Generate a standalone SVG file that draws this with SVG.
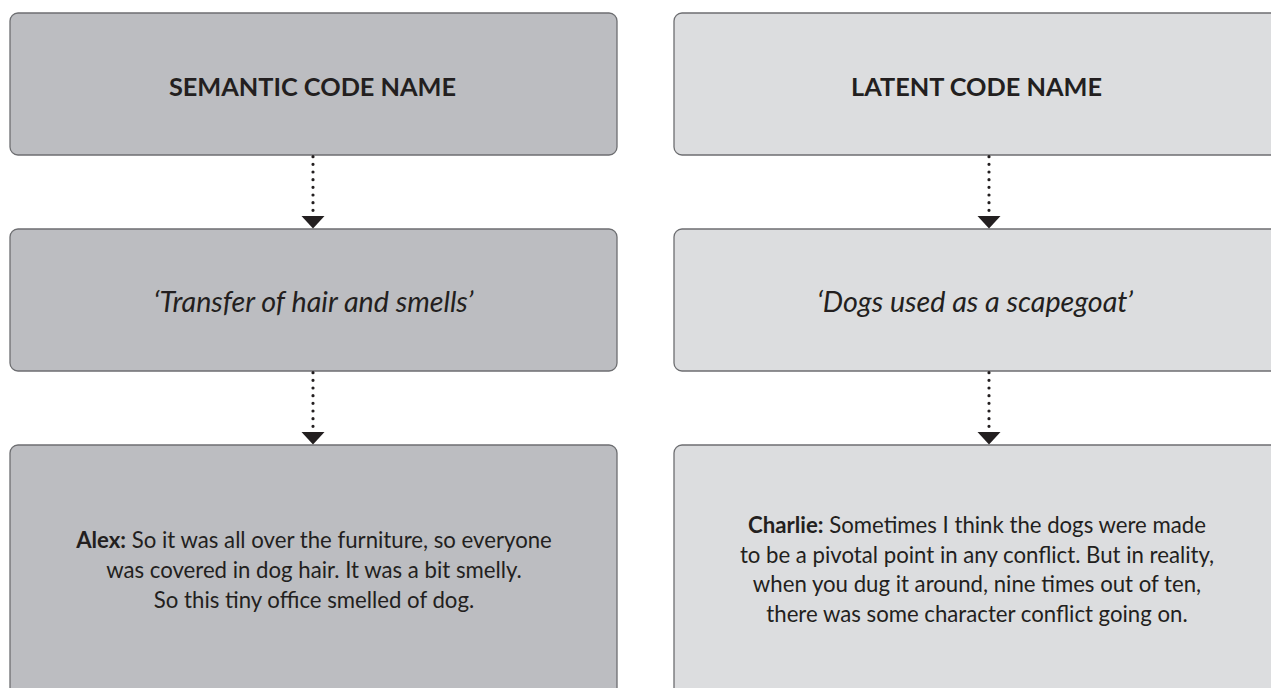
<svg xmlns="http://www.w3.org/2000/svg" xmlns:xlink="http://www.w3.org/1999/xlink" width="1271" height="688" viewBox="0 0 1271 688">
<defs>
<style>
.boxL{fill:#bcbdc1;stroke:#6d6e71;stroke-width:1.3}
.boxR{fill:#dcdddf;stroke:#6d6e71;stroke-width:1.3}
.h{font-family:Lato,"Open Sans",sans-serif;font-weight:bold;font-size:25.3px;fill:#231f20;text-anchor:middle}
.i{font-family:Lato,"Open Sans",sans-serif;font-style:italic;font-size:28.7px;fill:#231f20;text-anchor:middle}
.t{font-family:Lato,"Open Sans",sans-serif;font-size:22.2px;fill:#231f20;text-anchor:middle}
.dot{stroke:#231f20;stroke-width:3.2;stroke-linecap:round;stroke-dasharray:0 7.66;fill:none}
</style>
<path id="tri" d="M-11.5,0 L11.5,0 L0,12.5 Z" fill="#231f20"/>
</defs>
<rect width="1271" height="688" fill="#ffffff"/>
<g id="semantic-name">
<rect class="boxL" x="10" y="13" width="607" height="142" rx="8"/>
<text class="h" x="312.5" y="96">SEMANTIC CODE NAME</text>
</g>
<g id="semantic-quote">
<rect class="boxL" x="10" y="229" width="607" height="142" rx="8"/>
<text class="i" x="313.5" y="312">‘Transfer of hair and smells’</text>
</g>
<g id="semantic-excerpt">
<rect class="boxL" x="10" y="445" width="607" height="260" rx="8"/>
<text class="t" x="314" y="548"><tspan font-weight="bold">Alex:</tspan> So it was all over the furniture, so everyone</text>
<text class="t" x="314" y="578">was covered in dog hair. It was a bit smelly.</text>
<text class="t" x="314" y="608">So this tiny office smelled of dog.</text>
</g>
<g id="latent-name">
<rect class="boxR" x="674" y="13" width="620" height="142" rx="8"/>
<text class="h" x="976.5" y="96">LATENT CODE NAME</text>
</g>
<g id="latent-quote">
<rect class="boxR" x="674" y="229" width="620" height="142" rx="8"/>
<text class="i" x="975" y="312">‘Dogs used as a scapegoat’</text>
</g>
<g id="latent-excerpt">
<rect class="boxR" x="674" y="445" width="620" height="260" rx="8"/>
<text class="t" x="977" y="533"><tspan font-weight="bold">Charlie:</tspan> Sometimes I think the dogs were made</text>
<text class="t" x="977" y="563">to be a pivotal point in any conflict. But in reality,</text>
<text class="t" x="977" y="592">when you dug it around, nine times out of ten,</text>
<text class="t" x="977" y="622">there was some character conflict going on.</text>
</g>
<g id="connectors">
<line class="dot" x1="313" y1="156.7" x2="313" y2="211"/>
<use xlink:href="#tri" x="313" y="216"/>
<line class="dot" x1="313" y1="372.7" x2="313" y2="427"/>
<use xlink:href="#tri" x="313" y="432"/>
<line class="dot" x1="989" y1="156.7" x2="989" y2="211"/>
<use xlink:href="#tri" x="989" y="216"/>
<line class="dot" x1="989" y1="372.7" x2="989" y2="427"/>
<use xlink:href="#tri" x="989" y="432"/>
</g>
</svg>
